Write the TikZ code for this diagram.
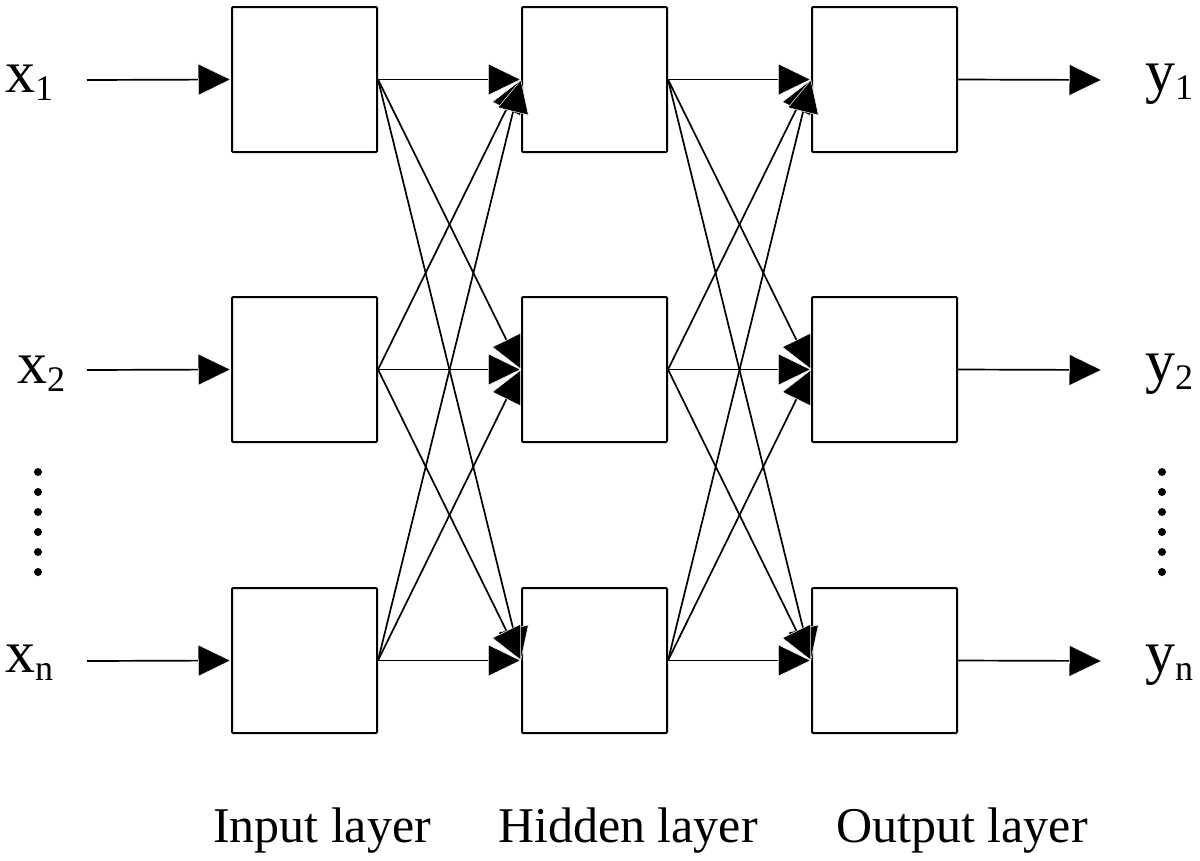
\documentclass[tikz,border=0pt]{standalone}
\usepackage{fontspec}
\setmainfont{Liberation Serif}
\usetikzlibrary{arrows.meta}
\newcommand\subsc[1]{\raisebox{-8pt}{\fontsize{36}{36}\selectfont #1}}
\begin{document}
\begin{tikzpicture}[x=1pt,y=-1pt,
  box/.style={draw, line width=2pt, minimum width=145pt, minimum height=145pt, inner sep=0pt, rounded corners=1pt},
  conn/.style={line width=1.7pt, -{Triangle[length=33pt,width=32pt,fill=black,color=white,line width=0.5pt]}},
  lbl/.style={font=\fontsize{50}{50}\selectfont, anchor=base, inner sep=0pt},
  var/.style={font=\fontsize{60}{60}\selectfont, anchor=base west, inner sep=0pt},
  dotc/.style={fill=black, draw=none}]
\useasboundingbox (0,0) rectangle (1200,860);

% boxes
\foreach \c/\cx in {i/304.5, h/594.5, o/884.5}{
  \foreach \r/\ry in {1/79.5, 2/369.5, 3/660.5}{
    \node[box] (\c\r) at (\cx,\ry) {};
  }
}

% input/output free ends
\coordinate (in1) at (87,80);
\coordinate (in2) at (87,370);
\coordinate (in3) at (87,661);
\coordinate (out1) at (1102,80);
\coordinate (out2) at (1102,370);
\coordinate (out3) at (1102,661);

\foreach \r in {1,2,3}{
  \draw[conn] (in\r) -- (i\r.west);
  \draw[conn] (o\r.east) -- (out\r);
}

% full connections
\foreach \a in {1,2,3}{
  \foreach \b in {1,2,3}{
    \draw[conn] (i\a.east) -- (h\b.west);
    \draw[conn] (h\a.east) -- (o\b.west);
  }
}

% variable labels
\node[var] (x1) at (5,92) {x\subsc{1}};
\node[var] (x2) at (17,383) {x\subsc{2}};
\node[var] (xn) at (5,672) {x\subsc{n}};
\node[var] (y1) at (1145,91) {y\subsc{1}};
\node[var] (y2) at (1145,381) {y\subsc{2}};
\node[var] (yn) at (1145,672) {y\subsc{n}};

% vertical dots
\foreach \yy in {472,492,512,532,552,572}{
  \fill[dotc] (38,\yy) circle (4pt);
  \fill[dotc] (1162,\yy) circle (4pt);
}

% layer labels
\node[lbl] (li) at (322,842) {Input layer};
\node[lbl] (lh) at (628,842) {Hidden layer};
\node[lbl] (lo) at (962,842) {Output layer};
\end{tikzpicture}
\end{document}
